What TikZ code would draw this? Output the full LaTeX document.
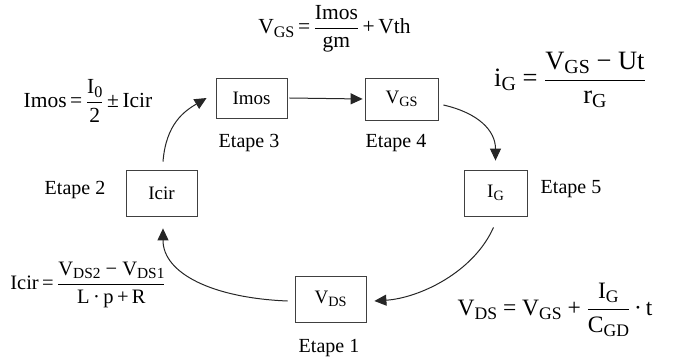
\documentclass[tikz,border=0pt]{standalone}
\usepackage{fontspec}
\setmainfont{Liberation Serif}
\usepackage{amsmath}
\usepackage{graphicx}
\usetikzlibrary{arrows.meta}
\newcommand\sbs[1]{\raisebox{-0.35ex}{\scalebox{0.75}{#1}}}
\begin{document}
\begin{tikzpicture}[x=1pt,y=-1pt,
  box/.style={draw=black!75, line width=0.8pt, inner sep=0pt, font=\fontsize{19}{21}\selectfont},
  lbl/.style={inner sep=0pt, font=\fontsize{20}{22}\selectfont},
  eq/.style={inner sep=0pt, font=\fontsize{21.5}{24}\selectfont},
  conn/.style={line width=1pt, draw=black!85, -{Triangle[length=12pt,width=11pt]}}]
\useasboundingbox (0,0) rectangle (682,358);
% boxes
\node[box, minimum width=71pt, minimum height=40pt] (imos) at (251.5,98) {Imos};
\node[box, minimum width=73pt, minimum height=42pt] (vgs) at (401.5,99) {V\sbs{GS}};
\node[box, minimum width=63pt, minimum height=46pt] (ig) at (495.5,193) {I\sbs{G}};
\node[box, minimum width=71pt, minimum height=46pt] (vds) at (330.5,299) {V\sbs{DS}};
\node[box, minimum width=71pt, minimum height=46pt] (icir) at (161.5,193) {Icir};
% step labels
\node[lbl] (e3) at (249,143) {Etape 3};
\node[lbl] (e4) at (396,143) {Etape 4};
\node[lbl] (e5) at (571,189) {Etape 5};
\node[lbl] (e2) at (75,190) {Etape 2};
\node[lbl] (e1) at (329,348) {Etape 1};
% equations
\node[eq] (q1) at (334.5,29) {V\sbs{GS}\,=\,$\dfrac{\text{Imos}}{\text{gm}}$\,+\,Vth};
\node[eq] (q2) at (88,101) {Imos\,=\,$\dfrac{\text{I\sbs{0}}}{\text{2}}$\,±\,Icir};
\node[eq, font=\fontsize{20.5}{24}\selectfont] (q3) at (88,285) {Icir\,=\,$\dfrac{\text{V\sbs{DS2} − V\sbs{DS1}}}{\text{L\,·\,p\,+\,R}}$};
\node[inner sep=0pt, font=\fontsize{26.5}{30}\selectfont] (q4) at (570,80) {i\sbs{G} = $\dfrac{\text{V\sbs{GS} − Ut}}{\text{r\sbs{G}}}$};
\node[inner sep=0pt, font=\fontsize{23.5}{27}\selectfont] (q5) at (555,310) {V\sbs{DS} = V\sbs{GS} + $\dfrac{\text{I\sbs{G}}}{\text{C\sbs{GD}}}$\,·\,t};
% connectors
\draw[conn] ([shift={(1.5,-8)}]icir.north) .. controls +(3,-38) and +(-22,13) .. ([shift={(-9,0)}]imos.west);
\draw[conn] ([xshift=2pt]imos.east) -- ([xshift=-2pt]vgs.west);
\draw[conn] ([shift={(5,6)}]vgs.east) .. controls +(35,8) and +(0,-30) .. ([shift={(0,-9)}]ig.north);
\draw[conn] ([shift={(-2,11)}]ig.south) .. controls +(-20,45) and +(45,-3) .. ([shift={(8,2)}]vds.east);
\draw[conn] ([shift={(-7,2)}]vds.west) .. controls +(-75,-3) and +(0,45) .. ([shift={(1.5,12)}]icir.south);
\end{tikzpicture}
\end{document}
